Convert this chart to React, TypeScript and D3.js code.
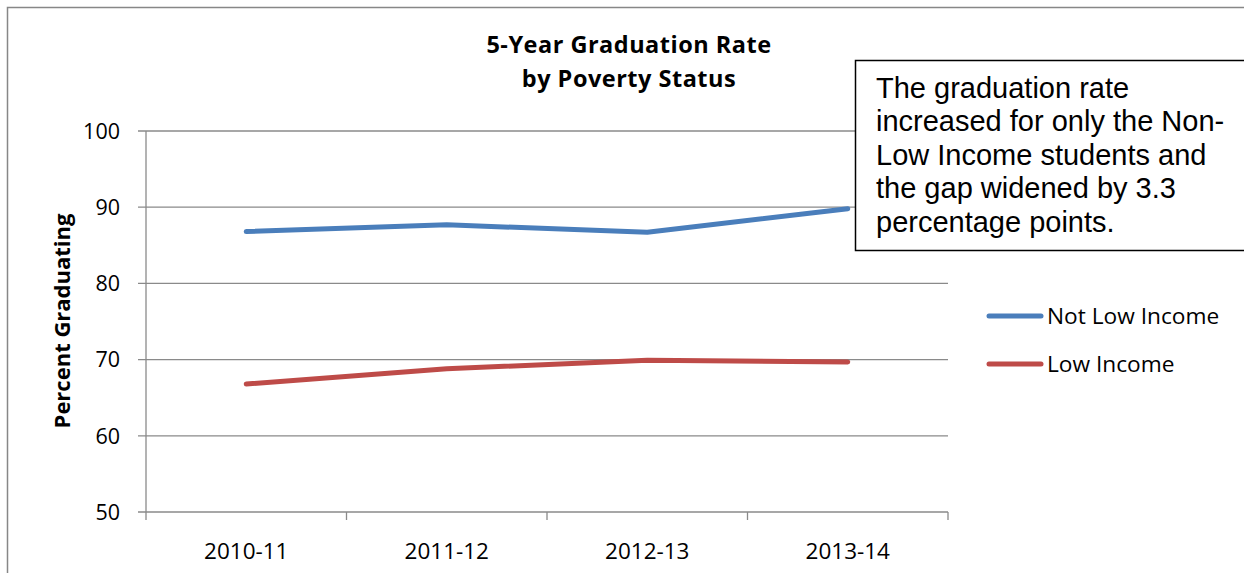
import { useEffect, useRef } from 'react';
import * as d3 from 'd3';

const categories = ['2010-11', '2011-12', '2012-13', '2013-14'];
const notLowIncome = [86.8, 87.7, 86.7, 89.8];
const lowIncome = [66.8, 68.8, 69.9, 69.7];
const yTicks = [50, 60, 70, 80, 90, 100];
const seriesNames = ['Not Low Income', 'Low Income'];
const noteLines = [
  'The graduation rate',
  'increased for only the Non-',
  'Low Income students and',
  'the gap widened by 3.3',
  'percentage points.',
];

const W = 1244;
const H = 573;
const plot = { left: 146, right: 948, top: 131, bottom: 512 };
const colors = ['#4a7ebb', '#be4b48'];
const grid = '#8a8a8a';
const font = '"Open Sans", "Noto Sans", sans-serif';

function Chart() {
  const svgRef = useRef<SVGSVGElement>(null);

  useEffect(() => {
    document.body.style.margin = '0';
    if (svgRef.current === null) return;
    const svg = d3.select(svgRef.current);
    svg.selectAll('*').remove();

    const x = d3.scaleBand().domain(categories).range([plot.left, plot.right]);
    const y = d3.scaleLinear().domain([50, 100]).range([plot.bottom, plot.top]);
    const cx = (c: string) => (x(c) || 0) + x.bandwidth() / 2;

    // outer chart border
    svg.append('rect')
      .attr('x', 7.5).attr('y', 7.5)
      .attr('width', W + 20).attr('height', H + 20)
      .attr('fill', 'white').attr('stroke', '#878787').attr('stroke-width', 1.5);

    // gridlines + y ticks
    const g = svg.append('g');
    yTicks.forEach((t) => {
      g.append('line')
        .attr('x1', plot.left - 8).attr('x2', plot.right)
        .attr('y1', y(t)).attr('y2', y(t))
        .attr('stroke', grid).attr('stroke-width', 1.3);
      g.append('text')
        .attr('x', 120).attr('y', y(t))
        .attr('dy', '0.36em')
        .attr('text-anchor', 'end')
        .attr('font-family', font).attr('font-size', 21.5)
        .text(t);
    });

    // y axis line
    g.append('line')
      .attr('x1', plot.left).attr('x2', plot.left)
      .attr('y1', plot.top).attr('y2', plot.bottom)
      .attr('stroke', grid).attr('stroke-width', 1.3);

    // x ticks at band boundaries
    const bounds = [...categories.map((c) => x(c) || 0), plot.right];
    bounds.forEach((b) => {
      g.append('line')
        .attr('x1', b).attr('x2', b)
        .attr('y1', plot.bottom).attr('y2', plot.bottom + 8)
        .attr('stroke', grid).attr('stroke-width', 1.3);
    });
    categories.forEach((c) => {
      g.append('text')
        .attr('x', cx(c)).attr('y', 559)
        .attr('text-anchor', 'middle')
        .attr('font-family', font).attr('font-size', 22.5)
        .text(c);
    });

    // axis title
    svg.append('text')
      .attr('transform', 'translate(70, 321) rotate(-90)')
      .attr('text-anchor', 'middle')
      .attr('font-family', font).attr('font-size', 22).attr('font-weight', 'bold')
      .text('Percent Graduating');

    // chart title
    const title = svg.append('text')
      .attr('text-anchor', 'middle')
      .attr('font-family', font).attr('font-size', 23.5).attr('font-weight', 'bold')
      .attr('letter-spacing', 0.5);
    title.append('tspan').attr('x', 629).attr('y', 53).text('5-Year Graduation Rate');
    title.append('tspan').attr('x', 629).attr('y', 86.5).text('by Poverty Status');

    // series lines
    const line = d3.line<number>()
      .x((_, i) => cx(categories[i]))
      .y((d) => y(d));
    [notLowIncome, lowIncome].forEach((s, i) => {
      svg.append('path')
        .datum(s)
        .attr('d', line)
        .attr('fill', 'none')
        .attr('stroke', colors[i])
        .attr('stroke-width', 5)
        .attr('stroke-linecap', 'round')
        .attr('stroke-linejoin', 'round');
    });

    // legend
    seriesNames.forEach((name, i) => {
      const ly = 316 + i * 48;
      svg.append('line')
        .attr('x1', 989).attr('x2', 1041)
        .attr('y1', ly).attr('y2', ly)
        .attr('stroke', colors[i]).attr('stroke-width', 5)
        .attr('stroke-linecap', 'round');
      svg.append('text')
        .attr('x', 1047).attr('y', ly)
        .attr('dy', '0.36em')
        .attr('font-family', font).attr('font-size', 22.7)
        .text(name);
    });

    // annotation box
    svg.append('rect')
      .attr('x', 855.5).attr('y', 60.5)
      .attr('width', 420).attr('height', 190)
      .attr('fill', 'white').attr('stroke', 'black').attr('stroke-width', 1.5);
    const note = svg.append('text')
      .attr('font-family', '"Liberation Sans", Arimo, Arial, sans-serif')
      .attr('font-size', 29);
    noteLines.forEach((l, i) => {
      note.append('tspan').attr('x', 876).attr('y', 97.5 + i * 33.5).text(l);
    });
  }, []);

  return <svg ref={svgRef} width={W} height={H} style={{ display: 'block' }} />;
}

export default function App() {
  return <Chart />;
}
